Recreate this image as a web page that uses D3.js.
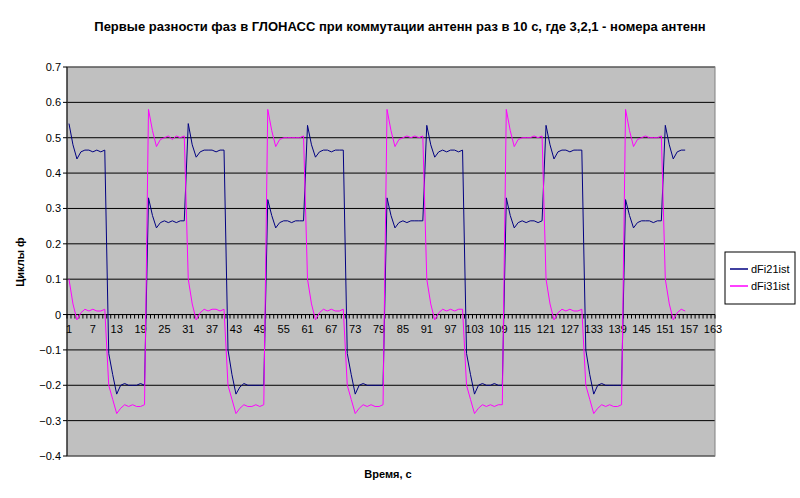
<!DOCTYPE html>
<html><head><meta charset="utf-8">
<script src="https://cdn.jsdelivr.net/npm/d3@7"></script>
<style>body{margin:0;background:#fff}svg{font-family:Arial,"Liberation Sans",sans-serif}</style>
</head><body><svg id="c" width="800" height="498"></svg>
<script>
const title = "Первые разности фаз в ГЛОНАСС при коммутации антенн раз в 10 с, где 3,2,1 - номера антенн";
const seriesNames = ["dFi21ist", "dFi31ist"];
const yTicks = [-0.4,-0.3,-0.2,-0.1,0,0.1,0.2,0.3,0.4,0.5,0.6,0.7];
const nCategories = 163;
const xTickLabels = [1,7,13,19,25,31,37,43,49,55,61,67,73,79,85,91,97,103,109,115,121,127,133,139,145,151,157,163];
const dFi21ist = [
0.54,0.48,0.44,0.46,0.465,0.465,0.46,0.465,0.46,0.465,-0.11,-0.17,-0.225,-0.2,-0.195,-0.2,-0.2,-0.2,-0.195,-0.2,0.33,0.28,0.245,0.26,0.265,0.26,0.265,0.26,0.265,0.265,
0.54,0.48,0.445,0.46,0.465,0.465,0.465,0.46,0.465,0.465,-0.1,-0.17,-0.225,-0.205,-0.195,-0.2,-0.2,-0.2,-0.2,-0.2,0.325,0.28,0.245,0.26,0.265,0.265,0.26,0.265,0.265,0.265,
0.535,0.48,0.445,0.46,0.465,0.465,0.46,0.465,0.465,0.465,-0.11,-0.17,-0.225,-0.2,-0.195,-0.2,-0.2,-0.2,-0.2,-0.2,0.33,0.28,0.245,0.26,0.265,0.26,0.265,0.265,0.265,0.265,
0.535,0.48,0.445,0.46,0.465,0.46,0.465,0.465,0.46,0.465,-0.11,-0.17,-0.225,-0.2,-0.195,-0.2,-0.2,-0.195,-0.2,-0.2,0.33,0.28,0.245,0.26,0.265,0.26,0.265,0.265,0.26,0.265,
0.535,0.48,0.44,0.46,0.465,0.465,0.46,0.465,0.465,0.465,-0.1,-0.17,-0.225,-0.2,-0.195,-0.2,-0.2,-0.2,-0.2,-0.2,0.325,0.28,0.245,0.26,0.265,0.265,0.265,0.26,0.265,0.265,
0.535,0.48,0.44,0.46,0.465,0.465];
const dFi31ist = [
0.1,0.03,-0.015,0.005,0.015,0.01,0.015,0.01,0.01,0.015,-0.2,-0.24,-0.28,-0.265,-0.255,-0.26,-0.255,-0.26,-0.26,-0.255,0.58,0.52,0.475,0.495,0.5,0.505,0.495,0.505,0.5,0.505,
0.1,0.03,-0.015,0.005,0.015,0.01,0.015,0.015,0.01,0.015,-0.2,-0.24,-0.28,-0.265,-0.255,-0.26,-0.26,-0.255,-0.26,-0.255,0.58,0.52,0.475,0.495,0.5,0.5,0.5,0.5,0.5,0.505,
0.1,0.03,-0.015,0.005,0.015,0.01,0.015,0.01,0.01,0.015,-0.2,-0.24,-0.28,-0.265,-0.255,-0.26,-0.255,-0.26,-0.26,-0.255,0.58,0.52,0.475,0.495,0.5,0.505,0.5,0.505,0.5,0.505,
0.1,0.03,-0.015,0.005,0.015,0.01,0.015,0.01,0.015,0.015,-0.2,-0.24,-0.28,-0.265,-0.255,-0.26,-0.255,-0.26,-0.255,-0.255,0.58,0.52,0.475,0.495,0.5,0.5,0.5,0.505,0.5,0.505,
0.1,0.03,-0.015,0.005,0.015,0.01,0.015,0.01,0.01,0.015,-0.2,-0.24,-0.28,-0.265,-0.255,-0.26,-0.255,-0.26,-0.26,-0.255,0.58,0.52,0.475,0.495,0.5,0.505,0.5,0.5,0.5,0.505,
0.1,0.03,-0.015,0.005,0.015,0.01];
const colors = ["#000080", "#ff00ff"];

const svg = d3.select("#c");
const L=67,R=715,T=67,B=456;
const x = d3.scaleBand().domain(d3.range(1,nCategories+1)).range([L,R]);
const y = d3.scaleLinear().domain([-0.4,0.7]).range([B,T]);
const xc = i => x(i)+x.bandwidth()/2;

svg.append("rect").attr("x",L).attr("y",T).attr("width",R-L).attr("height",B-T).attr("fill","#c0c0c0");
svg.append("g").selectAll("line").data(yTicks).join("line")
  .attr("x1",L).attr("x2",R).attr("y1",d=>y(d)).attr("y2",d=>y(d)).attr("stroke","#000").attr("stroke-width",1);
svg.append("rect").attr("x",L).attr("y",T).attr("width",R-L).attr("height",B-T).attr("fill","none").attr("stroke","#808080");
// y axis
svg.append("line").attr("x1",L).attr("x2",L).attr("y1",T).attr("y2",B).attr("stroke","#000");
svg.append("g").selectAll("text").data(yTicks).join("text")
  .attr("x",L-6).attr("y",d=>y(d)+4).attr("text-anchor","end").attr("font-size",11)
  .text(d=>d===0?"0":d3.format(".1f")(d));
svg.append("g").selectAll("line").data(yTicks).join("line")
  .attr("x1",L-4).attr("x2",L).attr("y1",d=>y(d)).attr("y2",d=>y(d)).attr("stroke","#000");
// x axis at 0
const y0=y(0);
svg.append("line").attr("x1",L).attr("x2",R).attr("y1",y0).attr("y2",y0).attr("stroke","#000");
svg.append("g").selectAll("line").data(d3.range(0,nCategories+1)).join("line")
  .attr("x1",i=>L+i*x.step()).attr("x2",i=>L+i*x.step()).attr("y1",y0).attr("y2",y0+4).attr("stroke","#000");
svg.append("g").selectAll("text").data(xTickLabels).join("text")
  .attr("x",d=>xc(d)).attr("y",y0+18).attr("text-anchor","middle").attr("font-size",11).text(d=>d);
// series
const line = d3.line().x((d,i)=>xc(i+1)).y(d=>y(d));
[dFi21ist,dFi31ist].forEach((s,k)=>{
  svg.append("path").attr("d",line(s)).attr("fill","none").attr("stroke",colors[k]).attr("stroke-width",1);
});
// titles
svg.append("text").attr("x",400).attr("y",31).attr("text-anchor","middle").attr("font-size",13).attr("font-weight","bold").text(title);
svg.append("text").attr("x",388).attr("y",478).attr("text-anchor","middle").attr("font-size",11).attr("font-weight","bold").text("Время, с");
svg.append("text").attr("transform","translate(24,262) rotate(-90)").attr("text-anchor","middle").attr("font-size",11).attr("font-weight","bold").text("Циклы ф");
// legend
svg.append("rect").attr("x",725).attr("y",252).attr("width",70).attr("height",52).attr("fill","#fff").attr("stroke","#000");
seriesNames.forEach((n,k)=>{
  const yy=269+k*17;
  svg.append("line").attr("x1",730).attr("x2",748).attr("y1",yy).attr("y2",yy).attr("stroke",colors[k]).attr("stroke-width",1.5);
  svg.append("text").attr("x",751).attr("y",yy+4).attr("font-size",11).text(n);
});
</script></body></html>
